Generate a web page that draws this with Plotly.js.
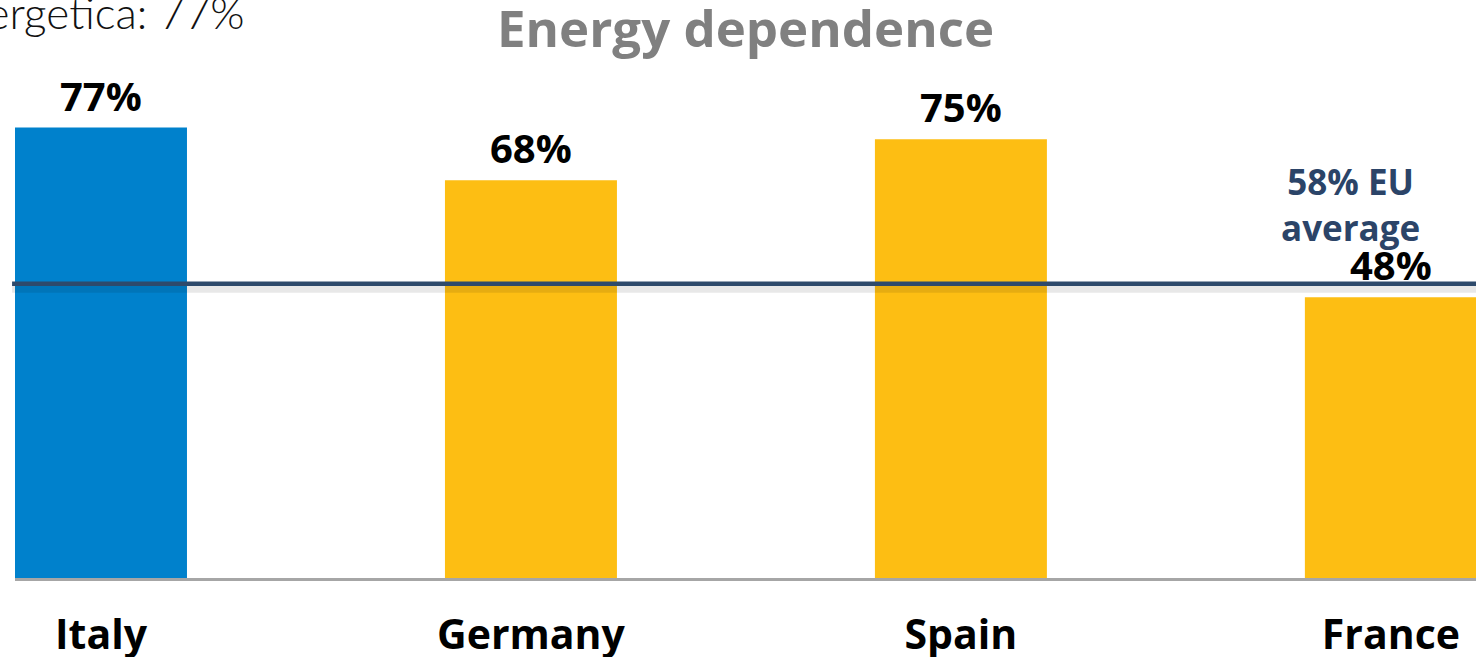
<!DOCTYPE html>
<html>
<head>
<meta charset="utf-8">
<script src="https://cdn.plot.ly/plotly-3.0.1.min.js"></script>
<style>html,body{margin:0;padding:0;background:#fff;}#chart{width:1476px;height:657px;}</style>
</head>
<body>
<div id="chart"></div>
<script>
// ---- data ----
const countries = ["Italy", "Germany", "Spain", "France"];
const dependence = [77, 68, 75, 48];              // % energy dependence
const barColors = ["#0081CC", "#FDBE13", "#FDBE13", "#FDBE13"];
const euLabel = "58% EU<br>average";
const euLineLevel = 50.3;                         // where the reference draws the EU line
const headerText = "Dipendenza energetica: 77%";
const chartTitle = "Energy dependence";

const FONT = "Open Sans, Lato, sans-serif";

const trace = {
  type: "bar",
  x: countries,
  y: dependence,
  width: 0.4,
  marker: {color: barColors, line: {width: 0}},
  hoverinfo: "none"
};

const valueLabels = countries.map((c, i) => ({
  x: c, y: dependence[i], xref: "x", yref: "y",
  text: "<b>" + dependence[i] + "%</b>",
  showarrow: false, yanchor: "bottom", yshift: 3,
  font: {family: FONT, size: 40, color: "#000"}
}));

const layout = {
  width: 1476, height: 657,
  margin: {l: 15, r: 0, t: 100, b: 79},
  paper_bgcolor: "#fff", plot_bgcolor: "#fff",
  showlegend: false,
  title: {
    text: "<b>" + chartTitle + "</b>",
    x: 0.5, xref: "paper", xanchor: "center",
    y: 0.955, yref: "container", yanchor: "middle",
    font: {family: FONT, size: 51, color: "#808080"}
  },
  xaxis: {
    type: "category",
    range: [-0.2, 3.198],
    showline: true, linecolor: "#A6A6A6", linewidth: 2.5,
    ticks: "outside", ticklen: 19, tickcolor: "rgba(0,0,0,0)",
    tickfont: {family: FONT, size: 41, color: "#000", weight: "bold"},
    showgrid: false, zeroline: false, fixedrange: true
  },
  yaxis: {
    range: [0, 81.7],
    visible: false, showgrid: false, zeroline: false, fixedrange: true
  },
  shapes: [
    // shadow under EU line
    {type: "line", xref: "paper", x0: -0.002, x1: 1, yref: "y",
     ysizemode: "pixel", yanchor: euLineLevel, y0: -5, y1: -5,
     line: {color: "rgba(0,0,0,0.09)", width: 8}, layer: "above"},
    // EU average line
    {type: "line", xref: "paper", x0: -0.002, x1: 1, yref: "y",
     y0: euLineLevel, y1: euLineLevel,
     line: {color: "#2E4A6B", width: 4.5}, layer: "above"},
    // small tick at left end of axis
    {type: "line", xref: "paper", x0: 0, x1: 0, yref: "y",
     ysizemode: "pixel", yanchor: 0, y0: 0, y1: -10,
     line: {color: "#A6A6A6", width: 2.5}}
  ],
  annotations: valueLabels.concat([
    {x: 0.9138, xref: "paper", y: euLineLevel, yref: "y",
     text: "<b>" + euLabel + "</b>", showarrow: false,
     xanchor: "center", yanchor: "bottom", yshift: 31,
     font: {family: FONT, size: 35, color: "#2B4468"}},
    {x: 0.1588, xref: "paper", y: 1.209, yref: "paper",
     text: headerText, showarrow: false,
     xanchor: "right", yanchor: "top", yshift: 16,
     font: {family: "Lato, sans-serif", size: 44, color: "#111", weight: 300}}
  ])
};

Plotly.newPlot("chart", [trace], layout, {staticPlot: true, displayModeBar: false});
</script>
</body>
</html>
